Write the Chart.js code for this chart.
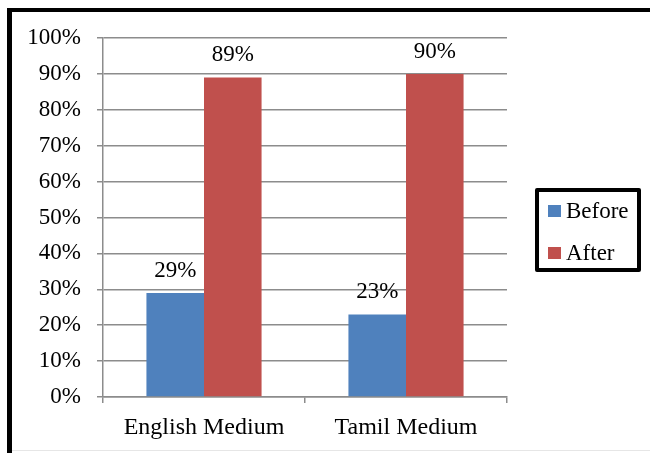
<!DOCTYPE html>
<html>
<head>
<meta charset="utf-8">
<script src="https://cdn.jsdelivr.net/npm/chart.js@4.4.1/dist/chart.umd.min.js"></script>
<style>
  html, body { margin: 0; padding: 0; background: #fff; }
  #wrap { position: relative; width: 650px; height: 453px; }
</style>
</head>
<body>
<div id="wrap"><canvas id="mediumChart"></canvas></div>
<script>
// Chart data
const categories = ['English Medium', 'Tamil Medium'];
const seriesNames = ['Before', 'After'];
const beforeValues = [29, 23];
const afterValues = [89, 90];
const seriesColors = ['#4F81BD', '#C0504D'];

const FONT = '"Liberation Serif", "Times New Roman", serif';
const GRID = '#8c8c8c';

// Frame around the whole chart
const framePlugin = {
  id: 'frame',
  beforeDraw(chart) {
    const ctx = chart.ctx;
    ctx.save();
    ctx.fillStyle = '#fff';
    ctx.fillRect(0, 0, chart.width, chart.height);
    ctx.fillStyle = '#000';
    ctx.fillRect(7, 8, 5, chart.height - 8);
    ctx.fillRect(7, 8, chart.width - 7, 4);
    ctx.fillStyle = '#e6e6e6';
    ctx.fillRect(12, 450, chart.width - 12, 1);
    ctx.restore();
  }
};

// Value labels above each bar
const valueLabels = {
  id: 'valueLabels',
  afterDatasetsDraw(chart) {
    const ctx = chart.ctx;
    ctx.save();
    ctx.font = '23px ' + FONT;
    ctx.fillStyle = '#000';
    ctx.textAlign = 'center';
    ctx.textBaseline = 'alphabetic';
    chart.data.datasets.forEach((ds, i) => {
      chart.getDatasetMeta(i).data.forEach((bar, j) => {
        ctx.fillText(ds.data[j] + '%', bar.x, bar.y - 16);
      });
    });
    ctx.restore();
  }
};

// Boxed legend on the right
const boxedLegend = {
  id: 'boxedLegend',
  afterDraw(chart) {
    const ctx = chart.ctx;
    ctx.save();
    ctx.strokeStyle = '#000';
    ctx.lineWidth = 4;
    ctx.lineJoin = 'round';
    ctx.strokeRect(537, 190, 102, 80);
    ctx.font = '23px ' + FONT;
    ctx.textBaseline = 'alphabetic';
    ctx.textAlign = 'left';
    chart.data.datasets.forEach((ds, i) => {
      const y = 205 + i * 42;
      ctx.fillStyle = ds.backgroundColor;
      ctx.fillRect(548, y, 13, 12);
      ctx.fillStyle = '#000';
      ctx.fillText(ds.label, 566, y + 13);
    });
    ctx.restore();
  }
};

new Chart(document.getElementById('mediumChart'), {
  type: 'bar',
  data: {
    labels: categories,
    datasets: [
      { label: seriesNames[0], data: beforeValues, backgroundColor: seriesColors[0] },
      { label: seriesNames[1], data: afterValues, backgroundColor: seriesColors[1] }
    ]
  },
  options: {
    responsive: true,
    maintainAspectRatio: false,
    animation: false,
    layout: { padding: { top: 38, right: 143, left: 0, bottom: 0 } },
    datasets: { bar: { barPercentage: 1, categoryPercentage: 0.57, borderWidth: 0 } },
    plugins: {
      legend: { display: false },
      tooltip: { enabled: false }
    },
    scales: {
      x: {
        afterFit: s => { s.height = 56; },
        grid: { offset: true, drawOnChartArea: false, drawTicks: true, tickLength: 6, color: GRID, lineWidth: 1.5 },
        border: { color: GRID, width: 1.5 },
        ticks: { color: '#000', padding: 10, font: { family: FONT, size: 24 } }
      },
      y: {
        min: 0,
        max: 100,
        afterFit: s => { s.width = 103; },
        grid: { color: GRID, lineWidth: 1.5, tickLength: 6 },
        border: { color: GRID, width: 1.5 },
        ticks: {
          stepSize: 10,
          color: '#000',
          padding: 16,
          font: { family: FONT, size: 23 },
          callback: v => v + '%'
        }
      }
    }
  },
  plugins: [framePlugin, valueLabels, boxedLegend]
});
</script>
</body>
</html>
